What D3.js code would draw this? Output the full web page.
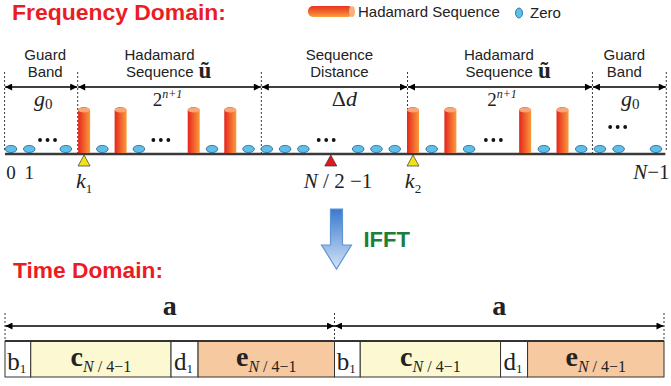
<!DOCTYPE html>
<html>
<head>
<meta charset="utf-8">
<script src="https://cdn.jsdelivr.net/npm/d3@7"></script>
<style>body{margin:0;background:#fff}</style>
</head>
<body>
<svg id="chart"></svg>
<script>
// ---- data: frequency domain subcarrier slots
const zeroSlots = [0, 1, 3, 5, 7, 11, 13, 14, 15, 16, 19, 20, 21, 23, 25, 29, 31, 32, 33, 35]
const seqSlots = [4, 6, 10, 12, 22, 24, 28, 30]
const dotSlots = [2, 8.2, 17.25, 26.3, 32.95]
const bounds = [-0.35, 3.65, 13.7, 21.7, 31.6, 35.55]
const segNames = [["Guard", "Band"], ["Hadamard", "Sequence"], ["Sequence", "Distance"], ["Hadamard", "Sequence"], ["Guard", "Band"]]
const segMath = [
  [{t: "g", s: 22, i: 1}, {t: "0", s: 15, off: 3}],
  [{t: "2", s: 19}, {t: "n+1", s: 12, i: 1, off: -8}],
  [{t: "\u0394", s: 22}, {t: "d", s: 22, i: 1}],
  [{t: "2", s: 19}, {t: "n+1", s: 12, i: 1, off: -8}],
  [{t: "g", s: 22, i: 1}, {t: "0", s: 15, off: 3}]
]
const markers = [{slot: 4, c: "#f3e312"}, {slot: 17.5, c: "#e3171d"}, {slot: 22, c: "#f3e312"}]
const tickLabels = [
  {slot: 0, parts: [{t: "0", s: 19}]},
  {slot: 1, parts: [{t: "1", s: 19}]},
  {slot: 4, low: 1, parts: [{t: "k", s: 22, i: 1}, {t: "1", s: 13, off: 5}]},
  {slot: 17.9, low: 1, parts: [{t: "N", s: 21, i: 1}, {t: " / 2 \u22121", s: 21}]},
  {slot: 22, low: 1, parts: [{t: "k", s: 22, i: 1}, {t: "2", s: 13, off: 5}]},
  {slot: 34.75, parts: [{t: "N", s: 21, i: 1}, {t: "\u22121", s: 21}]}
]
// ---- data: time domain blocks
const halves = ["a", "a"]
const blocks = [
  {n: "b", sub: [{t: "1"}], len: 1, fill: "#ffffff"},
  {n: "c", sub: [{t: "N", i: 1}, {t: " / 4\u22121"}], len: 5.45, fill: "#fbf8d2", b: 1},
  {n: "d", sub: [{t: "1"}], len: 1.05, fill: "#ffffff"},
  {n: "e", sub: [{t: "N", i: 1}, {t: " / 4\u22121"}], len: 5.3, fill: "#f6c9a0", b: 1}
]

const W = 671, H = 386
const svg = d3.select("#chart").attr("width", W).attr("height", H)
const SANS = "Liberation Sans, Arial, sans-serif"
const SERIF = "Liberation Serif, Times New Roman, serif"

const defs = svg.append("defs")
const cyl = defs.append("linearGradient").attr("id", "cyl").attr("x1", 0).attr("x2", 1).attr("y1", 0).attr("y2", 0)
cyl.append("stop").attr("offset", 0).attr("stop-color", "#e2261d")
cyl.append("stop").attr("offset", 0.45).attr("stop-color", "#f05a2a")
cyl.append("stop").attr("offset", 1).attr("stop-color", "#f99b3c")
const cylH = defs.append("linearGradient").attr("id", "cylH").attr("x1", 0).attr("x2", 0).attr("y1", 0).attr("y2", 1)
cylH.append("stop").attr("offset", 0).attr("stop-color", "#e6361f")
cylH.append("stop").attr("offset", 0.5).attr("stop-color", "#f2642a")
cylH.append("stop").attr("offset", 1).attr("stop-color", "#f9a13e")
const blue = defs.append("linearGradient").attr("id", "blue").attr("x1", 0).attr("x2", 0).attr("y1", 0).attr("y2", 1)
blue.append("stop").attr("offset", 0).attr("stop-color", "#3a79cf")
blue.append("stop").attr("offset", 1).attr("stop-color", "#d3e4f6")
defs.append("marker").attr("id", "ah").attr("viewBox", "0 0 10 10").attr("refX", 10).attr("refY", 5)
  .attr("markerWidth", 8).attr("markerHeight", 7).attr("markerUnits", "userSpaceOnUse").attr("orient", "auto-start-reverse")
  .append("path").attr("d", "M0,0L10,5L0,10z").attr("fill", "#000")

// mixed math text helper
function math(sel, x, y, parts, anchor, base) {
  const t = sel.append("text").attr("x", x).attr("y", y).attr("text-anchor", anchor || "middle")
    .attr("font-family", SERIF).attr("fill", "#222")
  let cur = 0
  parts.forEach(p => {
    const off = p.off || 0
    t.append("tspan").attr("dy", off - cur).attr("font-size", p.s || base)
      .attr("font-style", p.i ? "italic" : "normal").attr("font-weight", p.b ? "bold" : "normal").text(p.t)
    cur = off
  })
  return t
}

// ---- titles & legend
svg.append("text").attr("x", 12).attr("y", 20).attr("font-family", SANS).attr("font-weight", "bold")
  .attr("font-size", 22).attr("textLength", 214).attr("lengthAdjust", "spacingAndGlyphs")
  .attr("fill", "#ec1c24").text("Frequency Domain:")
svg.append("text").attr("x", 13).attr("y", 278).attr("font-family", SANS).attr("font-weight", "bold")
  .attr("font-size", 22).attr("textLength", 150).attr("lengthAdjust", "spacingAndGlyphs")
  .attr("fill", "#ec1c24").text("Time Domain:")

const lg = svg.append("g")
lg.append("rect").attr("x", 308).attr("y", 6).attr("width", 45).attr("height", 11).attr("rx", 5).attr("fill", "url(#cylH)")
lg.append("ellipse").attr("cx", 352).attr("cy", 11.5).attr("rx", 3).attr("ry", 5.5).attr("fill", "#f8b07c")
lg.append("text").attr("x", 358).attr("y", 17).attr("font-family", SANS).attr("font-size", 15).attr("fill", "#222").text("Hadamard Sequence")
lg.append("ellipse").attr("cx", 519).attr("cy", 13).attr("rx", 3.5).attr("ry", 5).attr("fill", "#5cc0ea").attr("stroke", "#1e5f8f").attr("stroke-width", 0.8)
lg.append("text").attr("x", 530).attr("y", 18).attr("font-family", SANS).attr("font-size", 15).attr("fill", "#222").text("Zero")

// ---- frequency domain
const x = d3.scaleLinear().domain([0, 22, 35]).range([11, 413, 656])
const axisY = 154, arrowY = 87

const fd = svg.append("g")
// dashed boundaries
fd.selectAll(".bd").data(bounds).join("line").attr("class", "bd")
  .attr("x1", d => x(d)).attr("x2", d => x(d)).attr("y1", 72)
  .attr("y2", (d, i) => (i === 0 || i === bounds.length - 1) ? axisY - 4 : axisY)
  .attr("stroke", "#222").attr("stroke-width", 0.9).attr("stroke-dasharray", "2,2")
// double-headed spans
const segs = d3.range(bounds.length - 1).map(i => ({a: bounds[i], b: bounds[i + 1], i}))
fd.selectAll(".span").data(segs).join("line").attr("class", "span")
  .attr("x1", d => x(d.a) + 0.5).attr("x2", d => x(d.b) - 0.5).attr("y1", arrowY).attr("y2", arrowY)
  .attr("stroke", "#000").attr("stroke-width", 1.4).attr("marker-start", "url(#ah)").attr("marker-end", "url(#ah)")

const nameShift = [4, 0, 5, 9, -5]
const mathShift = [2, -2, 10, 2, 1]
segs.forEach(d => {
  const cx = (x(d.a) + x(d.b)) / 2 + nameShift[d.i]
  const nm = segNames[d.i]
  if (nm[0] === "Hadamard") {
    fd.append("text").attr("x", cx + 25).attr("y", 60).attr("text-anchor", "end").attr("font-family", SANS).attr("font-size", 15).attr("fill", "#222").text(nm[0])
    fd.append("text").attr("x", cx + 24).attr("y", 77).attr("text-anchor", "end").attr("font-family", SANS).attr("font-size", 15).attr("fill", "#222").text(nm[1])
    fd.append("text").attr("x", cx + 29).attr("y", 78).attr("font-family", SERIF).attr("font-weight", "bold").attr("font-size", 23).attr("fill", "#222").text("\u0169")
  } else {
    nm.forEach((s, k) => fd.append("text").attr("x", cx).attr("y", 60 + 17 * k).attr("text-anchor", "middle")
      .attr("font-family", SANS).attr("font-size", 15).attr("fill", "#222").text(s))
  }
  math(fd, (x(d.a) + x(d.b)) / 2 + mathShift[d.i], 106, segMath[d.i])
})

// axis baseline
fd.append("line").attr("x1", x(-0.33)).attr("x2", x(35.5)).attr("y1", axisY).attr("y2", axisY)
  .attr("stroke", "#3a3a3a").attr("stroke-width", 2.5)

// zeros
fd.selectAll(".zero").data(zeroSlots).join("ellipse").attr("class", "zero")
  .attr("cx", d => x(d)).attr("cy", axisY - 5).attr("rx", 5.8).attr("ry", 3.6)
  .attr("fill", "#5cc0ea").attr("stroke", "#1e5f8f").attr("stroke-width", 0.8)

// hadamard cylinders
const cg = fd.selectAll(".cyl").data(seqSlots).join("g").attr("class", "cyl")
cg.append("path").attr("d", d => {
  const cx = x(d), top = 110
  return `M${cx - 6},${axisY - 1}L${cx - 6},${top}A6,3 0 0 1 ${cx + 6},${top}L${cx + 6},${axisY - 1}Z`
}).attr("fill", "url(#cyl)")
cg.append("ellipse").attr("cx", d => x(d)).attr("cy", 110).attr("rx", 6).attr("ry", 2.6).attr("fill", "#f8a67a")

// ellipsis dots (three small dots per gap)
const dotPts = []
dotSlots.forEach((d, i) => [-1, 0, 1].forEach(k => dotPts.push({cx: x(d) + k * 7.5, raised: i === dotSlots.length - 1})))
fd.selectAll(".dot").data(dotPts).join("circle").attr("class", "dot")
  .attr("cx", d => d.cx).attr("cy", d => d.raised ? 127 : 140).attr("r", 1.9).attr("fill", "#111")

// markers
fd.selectAll(".mk").data(markers).join("path").attr("class", "mk")
  .attr("d", d => `M${x(d.slot)},${axisY + 1}L${x(d.slot) + 6},${axisY + 12}L${x(d.slot) - 6},${axisY + 12}Z`)
  .attr("fill", d => d.c).attr("stroke", "#333").attr("stroke-width", 0.7)

tickLabels.forEach(d => math(fd, x(d.slot), d.low ? 188 : 179, d.parts))

// ---- IFFT arrow
const tx = d3.scaleLinear().domain([0, d3.sum(blocks, b => b.len) * halves.length]).range([5, 664])
const mid = tx(d3.sum(blocks, b => b.len)) + 2
svg.append("path").attr("d", `M${mid - 6},209L${mid + 6},209L${mid + 6},245L${mid + 15},245L${mid},269L${mid - 15},245L${mid - 6},245Z`)
  .attr("fill", "url(#blue)").attr("stroke", "#5f95d5").attr("stroke-width", 1.2)
svg.append("text").attr("x", mid + 27).attr("y", 247).attr("font-family", SANS).attr("font-weight", "bold")
  .attr("font-size", 22).attr("fill", "#1b7f3b").text("IFFT")

// ---- time domain
const td = svg.append("g")
const halfLen = d3.sum(blocks, b => b.len)
const cells = []
halves.forEach((h, hi) => {
  let acc = hi * halfLen
  blocks.forEach(b => { cells.push({...b, s: acc, e: acc + b.len}); acc += b.len })
})
const boxTop = 341, boxBot = 377
td.selectAll(".cell").data(cells).join("rect").attr("class", "cell")
  .attr("x", d => tx(d.s)).attr("y", boxTop).attr("width", d => tx(d.e) - tx(d.s)).attr("height", boxBot - boxTop)
  .attr("fill", d => d.fill).attr("stroke", "#333").attr("stroke-width", 1)
td.append("line").attr("x1", tx(0)).attr("x2", tx(halfLen * 2)).attr("y1", boxTop).attr("y2", boxTop).attr("stroke", "#333").attr("stroke-width", 2)
cells.forEach(d => {
  const cx = (tx(d.s) + tx(d.e)) / 2
  if (d.b) {
    math(td, cx, 366, [{t: d.n, s: 28, b: 1}].concat(d.sub.map(p => ({...p, s: 16, off: 6}))), "middle")
  } else {
    math(td, cx - 1, 370, [{t: d.n, s: 25}].concat(d.sub.map(p => ({...p, s: 13, off: 3}))), "middle")
  }
})
// span arrows for "a"
const tb = d3.range(halves.length + 1).map(i => tx(i * halfLen))
td.selectAll(".tb").data(tb).join("line").attr("class", "tb")
  .attr("x1", d => d).attr("x2", d => d).attr("y1", 313).attr("y2", boxTop)
  .attr("stroke", "#222").attr("stroke-width", 0.9).attr("stroke-dasharray", "2,2")
halves.forEach((h, i) => {
  td.append("line").attr("x1", tb[i] + 0.5).attr("x2", tb[i + 1] - 0.5).attr("y1", 326).attr("y2", 326)
    .attr("stroke", "#000").attr("stroke-width", 1.4).attr("marker-start", "url(#ah)").attr("marker-end", "url(#ah)")
  td.append("text").attr("x", (tb[i] + tb[i + 1]) / 2).attr("y", 315).attr("text-anchor", "middle")
    .attr("font-family", SERIF).attr("font-weight", "bold").attr("font-size", 28).attr("fill", "#222").text(h)
})
</script>
</body>
</html>
